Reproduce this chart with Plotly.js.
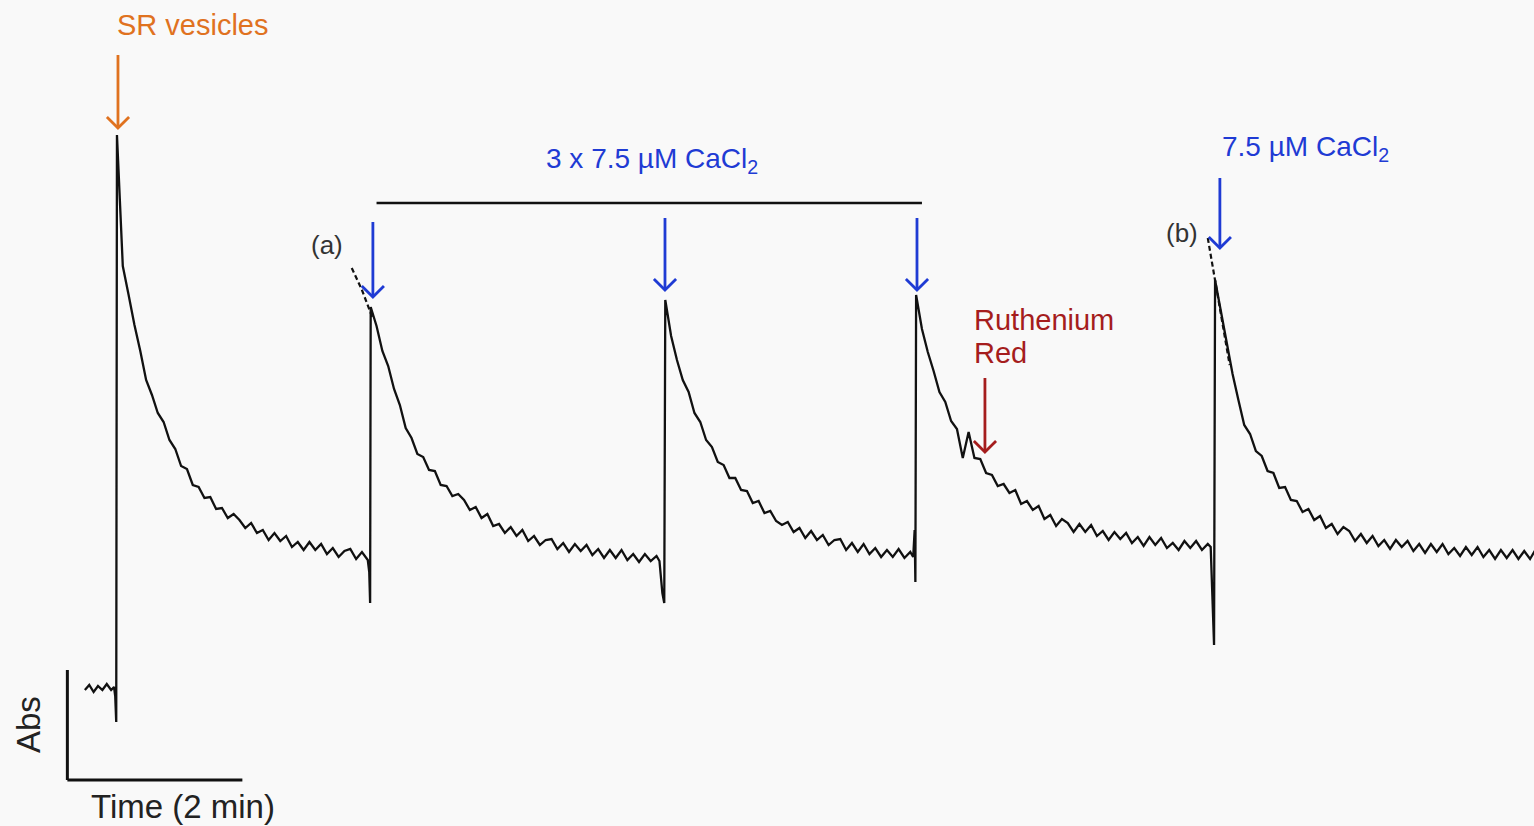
<!DOCTYPE html>
<html>
<head>
<meta charset="utf-8">
<script src="https://cdn.plot.ly/plotly-3.0.1.min.js"></script>
<style>html,body{margin:0;padding:0;background:#f9f9f9;}#chart{width:1534px;height:826px;}</style>
</head>
<body>
<div id="chart"></div>
<script>
// ---------- data (time in s, absorbance in arbitrary units) ----------
const DT = 4; // sampling interval of the decay records, s
const injTimes = [0, 174, 376, 548, 753]; // SR vesicles, 3 x CaCl2, CaCl2

const baseT = [-22, -19, -16, -13, -10, -7, -4, -2];
const baseY = [11.0, 11.5, 10.8, 11.4, 11.0, 11.6, 11.0, 11.3];

// mixing artefacts just before each addition
const artT = [[-1.2, -0.5], [173.0, 173.6], [372, 374, 375.3], [546, 547, 547.5], [750, 752.3]];
const artY = [[10.4, 7.8], [22.8, 19.7], [23.9, 20.7, 19.7], [24.3, 27.0, 21.8], [25.3, 15.5]];

const seg1 = [66.5, 53.4, 50.5, 47.5, 44.9, 42.0, 40.5, 38.7, 37.8, 36.0, 35.1, 33.4, 33.1, 31.5, 31.3, 30.2, 30.3, 29.1, 29.2, 28.2, 28.6, 28.0, 27.2, 27.7, 26.7, 27.0, 26.0, 26.7, 25.9, 26.4, 25.3, 25.8, 25.0, 25.8, 25.0, 25.6, 24.6, 25.2, 24.3, 24.9, 25.1, 24.1, 24.8, 24.0];
const seg2 = [49.3, 47.4, 44.9, 43.4, 41.1, 39.5, 37.2, 36.2, 34.6, 34.3, 33.0, 32.9, 31.5, 31.4, 30.4, 30.6, 30.0, 29.0, 29.3, 28.2, 28.6, 27.4, 27.6, 26.7, 27.3, 26.4, 27.0, 25.9, 26.4, 25.5, 26.0, 26.1, 25.1, 25.7, 24.8, 25.6, 24.9, 25.5, 24.5, 25.1, 24.2, 25.0, 24.2, 25.0, 24.0, 24.6, 23.8, 24.6, 23.9, 24.4];
const seg3 = [50.0, 46.4, 44.0, 42.0, 40.8, 38.7, 37.8, 36.0, 35.3, 33.8, 33.5, 32.2, 32.2, 31.0, 30.9, 29.7, 29.9, 28.7, 28.9, 27.9, 27.5, 27.8, 26.8, 27.2, 26.2, 26.9, 26.0, 26.5, 25.5, 26.0, 26.1, 25.0, 25.7, 24.8, 25.6, 24.6, 25.2, 24.3, 25.0, 24.3, 25.1, 24.2, 24.8];
const seg4 = [50.5, 47.1, 44.8, 42.9, 40.8, 39.8, 37.9, 37.1, 34.2, 36.8, 34.2, 34.1, 32.7, 32.5, 31.4, 31.6, 30.7, 31.0, 29.6, 29.9, 29.0, 29.4, 28.1, 28.5, 27.4, 28.1, 27.7, 26.8, 27.6, 26.8, 27.5, 26.4, 26.9, 26.0, 26.8, 26.1, 26.7, 25.7, 26.3, 25.4, 26.3, 25.5, 26.2, 25.2, 25.7, 25.0, 25.9, 25.2, 25.9, 25.0, 25.6];
const seg5 = [52.0, 48.9, 45.7, 42.6, 40.0, 37.5, 36.6, 34.9, 34.4, 32.9, 32.7, 31.2, 31.3, 30.0, 29.9, 28.8, 29.1, 28.0, 28.4, 27.2, 27.6, 26.6, 27.3, 26.9, 25.9, 26.6, 25.7, 26.4, 25.4, 26.0, 25.1, 26.0, 25.3, 25.9, 24.9, 25.6, 24.7, 25.6, 24.8, 25.6, 24.6, 25.2, 24.4, 25.3, 24.5, 25.3, 24.3, 25.0, 24.1, 25.0, 24.2, 25.0, 24.1, 24.9, 24.1, 25.1];
const segments = [seg1, seg2, seg3, seg4, seg5];

// back-extrapolated fits (a) and (b)
const fitAT = [161, 168, 175];
const fitAY = [53.2, 51.0, 48.3];
const fitBT = [748, 751, 754, 759, 763];
const fitBY = [56.2, 53.6, 51.0, 47.0, 43.5];

// scale bars: Abs and Time (2 min = 120 s)
const timeBar = [-34, 86];
const absBar = [2, 13];

// bracket over the three CaCl2 additions
const bracketT = [178, 552];
const bracketY = 59.7;

// addition arrows: [time, tail y, tip y]
const orangeArrow = [0.7, 74.5, 67.2];
const blueArrows = [[175.5, 57.8, 50.3], [375.8, 58.2, 51.0], [548.6, 58.2, 51.0], [756.3, 62.2, 55.2]];
const redArrow = [595.2, 42.2, 34.8];

// ---------- build trace ----------
let tx = baseT.slice(), ty = baseY.slice();
for (let k = 0; k < segments.length; k++) {
  tx = tx.concat(artT[k]); ty = ty.concat(artY[k]);
  segments[k].forEach((v, i) => { tx.push(injTimes[k] + i * DT); ty.push(v); });
}

const FONT = 'Liberation Sans, Arial, Helvetica, sans-serif';
const BLUE = '#1f3bd4', ORANGE = '#e0721f', RED = '#a51d1d', INK = '#222222';

// arrow glyph size (style): half width in s, head length in y units
const HEAD_W = 7.6, HEAD_L = 1.1;
function arrowTrace(a, color) {
  const t = a[0], tail = a[1], tip = a[2];
  return {
    x: [t, t, null, t - HEAD_W, t, t + HEAD_W],
    y: [tail, tip, null, tip + HEAD_L, tip, tip + HEAD_L],
    type: 'scatter', mode: 'lines', line: {color: color, width: 2.8},
    hoverinfo: 'skip', connectgaps: false
  };
}

const data = [
  {x: tx, y: ty, type: 'scatter', mode: 'lines', line: {color: '#111111', width: 2.3}, hoverinfo: 'skip'},
  {x: fitAT, y: fitAY, type: 'scatter', mode: 'lines', line: {color: '#111111', width: 2.2, dash: '5px,3px'}, hoverinfo: 'skip'},
  {x: fitBT, y: fitBY, type: 'scatter', mode: 'lines', line: {color: '#111111', width: 2.2, dash: '5px,3px'}, hoverinfo: 'skip'},
  arrowTrace(orangeArrow, ORANGE),
  ...blueArrows.map(a => arrowTrace(a, BLUE)),
  arrowTrace(redArrow, RED)
];

function label(t, y, text, color, size, opts) {
  return Object.assign({x: t, y: y, xref: 'x', yref: 'y', text: text, showarrow: false,
          font: {family: FONT, size: size, color: color}}, opts || {});
}

const annotations = [
  label(52.1, 77.5, 'SR vesicles', ORANGE, 29),
  label(366.9, 64.0, '3 x 7.5 µM CaCl<sub>2</sub>', BLUE, 28),
  label(815.3, 65.2, '7.5 µM CaCl<sub>2</sub>', BLUE, 28),
  label(144, 55.5, '(a)', '#333333', 26),
  label(730.3, 56.7, '(b)', '#333333', 26),
  label(586.3, 48.0, 'Ruthenium', RED, 29, {xanchor: 'left'}),
  label(586.3, 44.7, 'Red', RED, 29, {xanchor: 'left'}),
  label(-61.0, 7.5, 'Abs', INK, 33, {textangle: -90}),
  label(45.3, -0.6, 'Time (2 min)', INK, 33)
];

const shapes = [
  {type: 'line', xref: 'x', yref: 'y', x0: timeBar[0], x1: timeBar[0], y0: absBar[0], y1: absBar[1], line: {color: '#111', width: 3}},
  {type: 'line', xref: 'x', yref: 'y', x0: timeBar[0], x1: timeBar[1], y0: absBar[0], y1: absBar[0], line: {color: '#111', width: 3}},
  {type: 'line', xref: 'x', yref: 'y', x0: bracketT[0], x1: bracketT[1], y0: bracketY, y1: bracketY, line: {color: '#111', width: 2.5}}
];

const layout = {
  width: 1534, height: 826,
  margin: {l: 0, r: 0, t: 0, b: 0},
  paper_bgcolor: '#f9f9f9', plot_bgcolor: '#f9f9f9',
  showlegend: false,
  xaxis: {range: [-80.2, 971.7], visible: false, fixedrange: true},
  yaxis: {range: [-2.6, 80], visible: false, fixedrange: true},
  annotations: annotations,
  shapes: shapes
};

Plotly.newPlot('chart', data, layout, {staticPlot: true, displayModeBar: false});
</script>
</body>
</html>
